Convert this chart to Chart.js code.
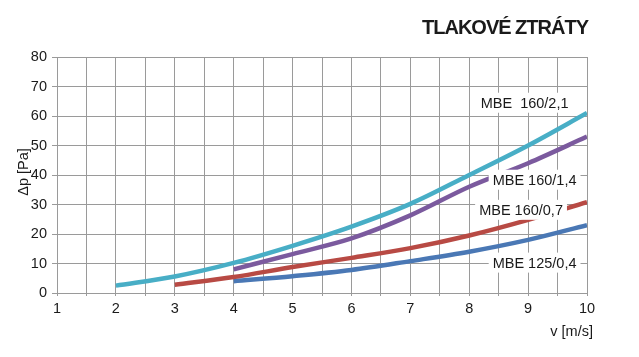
<!DOCTYPE html>
<html>
<head>
<meta charset="utf-8">
<script src="https://cdn.jsdelivr.net/npm/chart.js@4.4.0/dist/chart.umd.min.js"></script>
<style>
html,body{margin:0;padding:0;background:#fff;}
#wrap{width:639px;height:357px;position:relative;}
</style>
</head>
<body>
<div id="wrap"><canvas id="c" width="639" height="357"></canvas></div>
<script>
// ---- data ----
const velocity = [2, 3, 4, 5, 6, 7, 8, 9, 10];
const mbe160_21 = [2.5, 5.6, 10.2, 16, 22.5, 30.2, 40, 50, 61];
const mbe160_14 = [null, null, 8, 13.2, 18.5, 26.3, 36, 44, 53];
const mbe160_07 = [null, 2.8, 5.4, 8.8, 11.9, 15.2, 19.5, 24.8, 30.8];
const mbe125_04 = [null, null, 4, 5.7, 7.8, 10.8, 14, 18, 23];
const seriesNames = ['MBE  160/2,1', 'MBE 160/1,4', 'MBE 160/0,7', 'MBE 125/0,4'];
const xTickLabels = ['1','2','3','4','5','6','7','8','9','10'];
const yTickLabels = ['0','10','20','30','40','50','60','70','80'];
const chartTitle = 'TLAKOVÉ ZTRÁTY';
const xTitle = 'v [m/s]';
const yTitle = 'Δp [Pa]';

const FONT = '"Liberation Sans", Arial, Helvetica, sans-serif';

function pts(vals){
  const out = [];
  vals.forEach((v,i)=>{ if(v!==null) out.push({x: velocity[i], y: v}); });
  return out;
}

// label anchors in data units (centre of text)
const labelAnchors = [
  {x: 8.94, y: 64.5},
  {x: 9.11, y: 38.4},
  {x: 8.88, y: 28.2},
  {x: 9.11, y: 10.3}
];

const textPlugin = {
  id: 'textPlugin',
  afterDatasetsDraw(chart){
    const ctx = chart.ctx;
    const xs = chart.scales.x, ys = chart.scales.y;
    ctx.save();
    // series labels with white boxes
    ctx.font = '14.5px ' + FONT;
    ctx.textAlign = 'center';
    ctx.textBaseline = 'middle';
    seriesNames.forEach((name, i) => {
      const a = labelAnchors[i];
      const px = xs.getPixelForValue(a.x), py = ys.getPixelForValue(a.y);
      const w = ctx.measureText(name).width;
      ctx.fillStyle = '#fff';
      ctx.fillRect(px - w/2 - 4, py - 10, w + 8, 20);
      ctx.fillStyle = '#1a1a1a';
      ctx.fillText(name, px, py + 1);
    });
    // chart title
    ctx.font = 'bold 20px ' + FONT;
    ctx.textAlign = 'right';
    ctx.fillStyle = '#1a1a1a';
    if ('letterSpacing' in ctx) ctx.letterSpacing = '-1px';
    ctx.fillText(chartTitle, 588, 28);
    if ('letterSpacing' in ctx) ctx.letterSpacing = '0px';
    // x title
    ctx.font = '14.5px ' + FONT;
    ctx.textAlign = 'right';
    ctx.fillText(xTitle, 593, 332);
    // y title
    ctx.translate(24, 172);
    ctx.rotate(-Math.PI/2);
    ctx.textAlign = 'center';
    ctx.fillText(yTitle, 0, 0);
    ctx.restore();
  }
};

const colors = ['#48aec6', '#7b5a9e', '#b84a44', '#4a78b5'];
const dataSets = [mbe160_21, mbe160_14, mbe160_07, mbe125_04];

new Chart(document.getElementById('c'), {
  type: 'line',
  data: {
    datasets: dataSets.map((d, i) => ({
      label: seriesNames[i],
      data: pts(d),
      borderColor: colors[i],
      backgroundColor: colors[i],
      borderWidth: 4.5,
      borderCapStyle: 'butt',
      pointRadius: 0,
      tension: 0.4,
      cubicInterpolationMode: 'monotone',
      fill: false
    }))
  },
  options: {
    responsive: false,
    animation: false,
    layout: { padding: { left: 0, right: 52, top: 57, bottom: 0 } },
    plugins: { legend: { display: false }, tooltip: { enabled: false }, title: { display: false } },
    scales: {
      x: {
        type: 'linear', min: 1, max: 10,
        afterFit(s){ s.height = 64; },
        afterBuildTicks(s){
          const t = [];
          for (let v = 1; v <= 10.001; v += 0.5) t.push({value: v});
          s.ticks = t;
        },
        grid: { color: '#9a9a9a', lineWidth: 1, tickLength: 3, drawTicks: true },
        border: { color: '#9a9a9a' },
        ticks: {
          autoSkip: false, maxRotation: 0, padding: 4,
          color: '#1a1a1a', font: { family: FONT, size: 14.5 },
          callback(v){ return Number.isInteger(v) ? xTickLabels[v - 1] : ''; }
        }
      },
      y: {
        type: 'linear', min: 0, max: 80,
        afterFit(s){ s.width = 57; },
        grid: { color: '#9a9a9a', lineWidth: 1, tickLength: 5 },
        border: { color: '#9a9a9a' },
        ticks: {
          stepSize: 10, padding: 5,
          color: '#1a1a1a', font: { family: FONT, size: 14.5 },
          callback(v){ return yTickLabels[v / 10]; }
        }
      }
    }
  },
  plugins: [textPlugin]
});
</script>
</body>
</html>
